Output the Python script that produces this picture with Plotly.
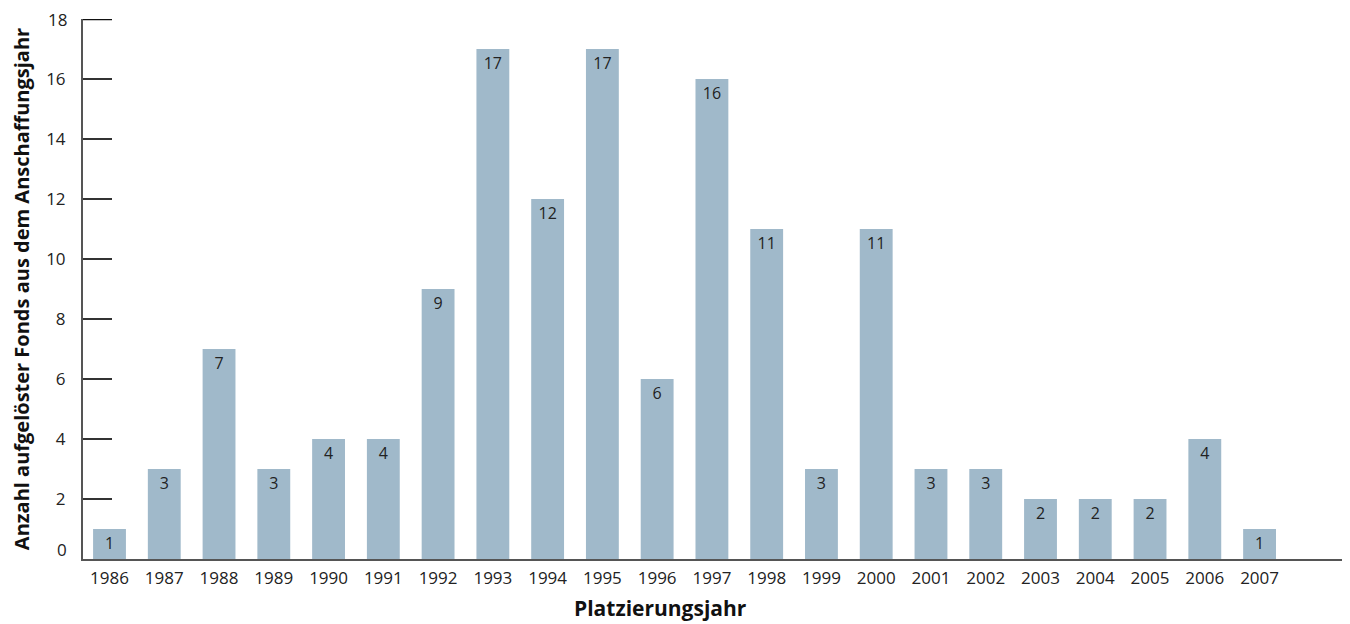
import plotly.graph_objects as go

years = ["1986", "1987", "1988", "1989", "1990", "1991", "1992", "1993", "1994", "1995", "1996",
         "1997", "1998", "1999", "2000", "2001", "2002", "2003", "2004", "2005", "2006", "2007"]
counts = [1, 3, 7, 3, 4, 4, 9, 17, 12, 17, 6, 16, 11, 3, 11, 3, 3, 2, 2, 2, 4, 1]
y_ticks = [2, 4, 6, 8, 10, 12, 14, 16, 18]

FONT = "Open Sans"
fig = go.Figure()
fig.add_trace(go.Bar(
    x=list(range(len(years))), y=counts, width=0.6,
    marker=dict(color="#a0b9ca", line=dict(width=0)),
    text=[str(c) for c in counts], textposition="inside", insidetextanchor="end",
    textangle=0, constraintext="none",
    textfont=dict(family=FONT, size=16, color="#222222"),
    hoverinfo="skip",
))
fig.update_layout(
    width=1342, height=616,
    margin=dict(l=75, r=5, t=11, b=65),
    plot_bgcolor="white", paper_bgcolor="white",
    showlegend=False,
    font=dict(family=FONT, size=17, color="#222222"),
    xaxis=dict(
        range=[-0.484, 22.56], tickmode="array",
        tickvals=list(range(len(years))), ticktext=years,
        showline=True, linecolor="#555555", linewidth=2,
        ticks="", showgrid=False, zeroline=False, automargin=False,
        ticklabelstandoff=3,
        tickfont=dict(family=FONT, size=17, color="#222222"),
    ),
    yaxis=dict(
        range=[0, 18], tickmode="array", tickvals=y_ticks, ticktext=[str(v) for v in y_ticks],
        showline=True, linecolor="#555555", linewidth=2,
        ticks="inside", ticklen=29, tickwidth=1.5, tickcolor="#333333",
        showgrid=False, zeroline=False, ticklabelstandoff=12, automargin=False,
        tickfont=dict(family=FONT, size=17, color="#222222"),
        title=dict(text="<b>Anzahl aufgelöster Fonds aus dem Anschaffungsjahr</b>",
                   font=dict(family=FONT, size=20, color="#111111"), standoff=23),
    ),
)
fig.add_annotation(x=(660 - 83) / 1262, xref="paper", y=0, yref="paper",
                   text="<b>Platzierungsjahr</b>", showarrow=False,
                   xanchor="center", yanchor="middle", yshift=-49,
                   font=dict(family=FONT, size=21, color="#111111"))
fig.add_annotation(x=0, xref="paper", y=0, yref="y", text="0", showarrow=False,
                   xanchor="right", xshift=-14, yshift=10,
                   font=dict(family=FONT, size=17, color="#222222"))
fig.add_annotation(x=0, xref="paper", y=18, yref="y", text="18", showarrow=False,
                   xanchor="right", xshift=-14, yshift=0,
                   font=dict(family=FONT, size=17, color="#222222"))
fig.add_shape(type="line", xref="paper", yref="y", x0=0, x1=29/1262, y0=18, y1=18,
              line=dict(color="#111111", width=2.5))
fig.write_html("out.html")
